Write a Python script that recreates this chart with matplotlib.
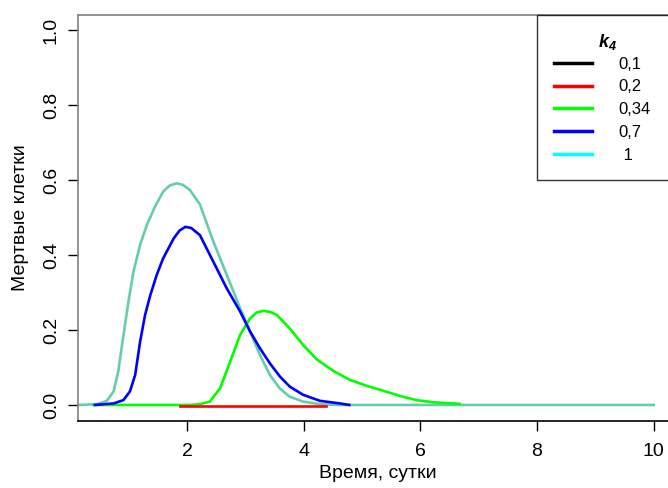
import numpy as np
import matplotlib
matplotlib.use("Agg")
import matplotlib.pyplot as plt

plt.rcParams['font.family'] = ['Liberation Sans', 'DejaVu Sans']
plt.rcParams['mathtext.fontset'] = 'custom'
plt.rcParams['mathtext.it'] = 'Liberation Sans:italic:bold'
plt.rcParams['mathtext.rm'] = 'Liberation Sans:italic:bold'

# k4 = 1 (aquamarine curve)
x_k1 = [0.15, 0.45, 0.625, 0.74, 0.82, 0.91, 0.995, 1.08, 1.195, 1.31, 1.45, 1.59, 1.70, 1.82,
        1.93, 2.05, 2.22, 2.45, 2.68, 2.91, 3.08, 3.25, 3.42, 3.59, 3.76, 3.99, 4.28, 4.60, 10.0]
y_k1 = [0.0, 0.002, 0.011, 0.036, 0.089, 0.187, 0.275, 0.355, 0.427, 0.48, 0.529, 0.569, 0.585, 0.591,
        0.587, 0.573, 0.535, 0.436, 0.347, 0.258, 0.196, 0.133, 0.08, 0.044, 0.022, 0.009, 0.002, 0.0, 0.0]

# k4 = 0.7
x_k07 = [0.42, 0.74, 0.91, 1.02, 1.11, 1.195, 1.28, 1.37, 1.48, 1.59, 1.77, 1.87, 1.97, 2.07,
         2.22, 2.45, 2.68, 2.91, 3.08, 3.25, 3.42, 3.59, 3.76, 3.99, 4.28, 4.62, 4.78]
y_k07 = [0.0, 0.004, 0.013, 0.036, 0.08, 0.169, 0.24, 0.293, 0.347, 0.391, 0.444, 0.465, 0.475, 0.472,
         0.453, 0.382, 0.311, 0.249, 0.196, 0.151, 0.111, 0.076, 0.049, 0.027, 0.011, 0.004, 0.0]

# k4 = 0.34
x_k034 = [0.40, 2.05, 2.22, 2.39, 2.565, 2.74, 2.91, 3.08, 3.20, 3.31, 3.43, 3.54, 3.76, 3.99,
          4.22, 4.505, 4.79, 5.08, 5.36, 5.65, 5.93, 6.22, 6.67]
y_k034 = [0.0, 0.0, 0.002, 0.009, 0.044, 0.116, 0.187, 0.231, 0.247, 0.251, 0.248, 0.24, 0.204, 0.16,
          0.122, 0.091, 0.067, 0.051, 0.038, 0.024, 0.013, 0.007, 0.003]

# k4 = 0.2
x_k02 = [1.88, 4.39]
y_k02 = [-0.003, -0.003]

# k4 = 0.1 (stays at zero, hidden under the other curves)
x_k01 = [0.50, 1.80]
y_k01 = [0.0, 0.0]

labels = ['0,1', '0,2', '0,34', '0,7', ' 1']
legend_colors = ['black', '#FF0000', '#00FF00', '#0000FF', '#00FFFF']

fig = plt.figure(figsize=(6.68, 4.88), dpi=100)
ax = fig.add_axes([78 / 668, (488 - 420.7) / 488, 599 / 668, 405.7 / 488])

ax.plot(x_k01, y_k01, color='black', lw=1.2)
ax.plot(x_k1, y_k1, color='#66CDAA', lw=1.9)
ax.plot(x_k034, y_k034, color='#00FF00', lw=1.9)
ax.plot(x_k07, y_k07, color='#0000FF', lw=1.9)
ax.plot(x_k02, y_k02, color='#FF0000', lw=1.9)

ax.set_xlim(0.13, 10.4)
ax.set_ylim(-0.042, 1.04)
ax.set_xticks([2, 4, 6, 8, 10])
ax.set_yticks([0.0, 0.2, 0.4, 0.6, 0.8, 1.0])
ax.set_yticklabels(['0.0', '0.2', '0.4', '0.6', '0.8', '1.0'], rotation=90, va='center')
ax.tick_params(length=7, width=1, labelsize=14)
ax.tick_params(axis='x', pad=9)
ax.tick_params(axis='y', pad=6)

for s in ['left', 'top', 'right']:
    ax.spines[s].set_color('#808080')
ax.spines['bottom'].set_color('black')
for s in ax.spines.values():
    s.set_linewidth(1.2)

ax.set_xlabel('Время, сутки', fontsize=14)
ax.xaxis.set_label_coords(0.5, (420.7 - 473) / 405.7)
ax.xaxis.label.set_va('center')
ax.set_ylabel('Мертвые клетки', fontsize=14)
ax.yaxis.set_label_coords((21 - 78) / 599, 0.5)
ax.yaxis.label.set_va('center')

handles = [plt.Line2D([], [], color=c, lw=2.5) for c in legend_colors]
x0 = (537 - 78) / 599
leg = ax.legend(handles, labels, title='$k_4$', loc='upper left',
                bbox_to_anchor=(x0, 0, 1 - x0, 1.0), mode='expand', fontsize=12, title_fontsize=13,
                frameon=True, fancybox=False, borderaxespad=0, handlelength=2.3,
                handletextpad=1.6, labelspacing=0.47, borderpad=1.0)
leg._legend_box.sep = 3.6  # tighter gap between title and entries
leg.get_frame().set_edgecolor('black')
leg.get_frame().set_linewidth(1)

fig.savefig('out.png', dpi=100)
